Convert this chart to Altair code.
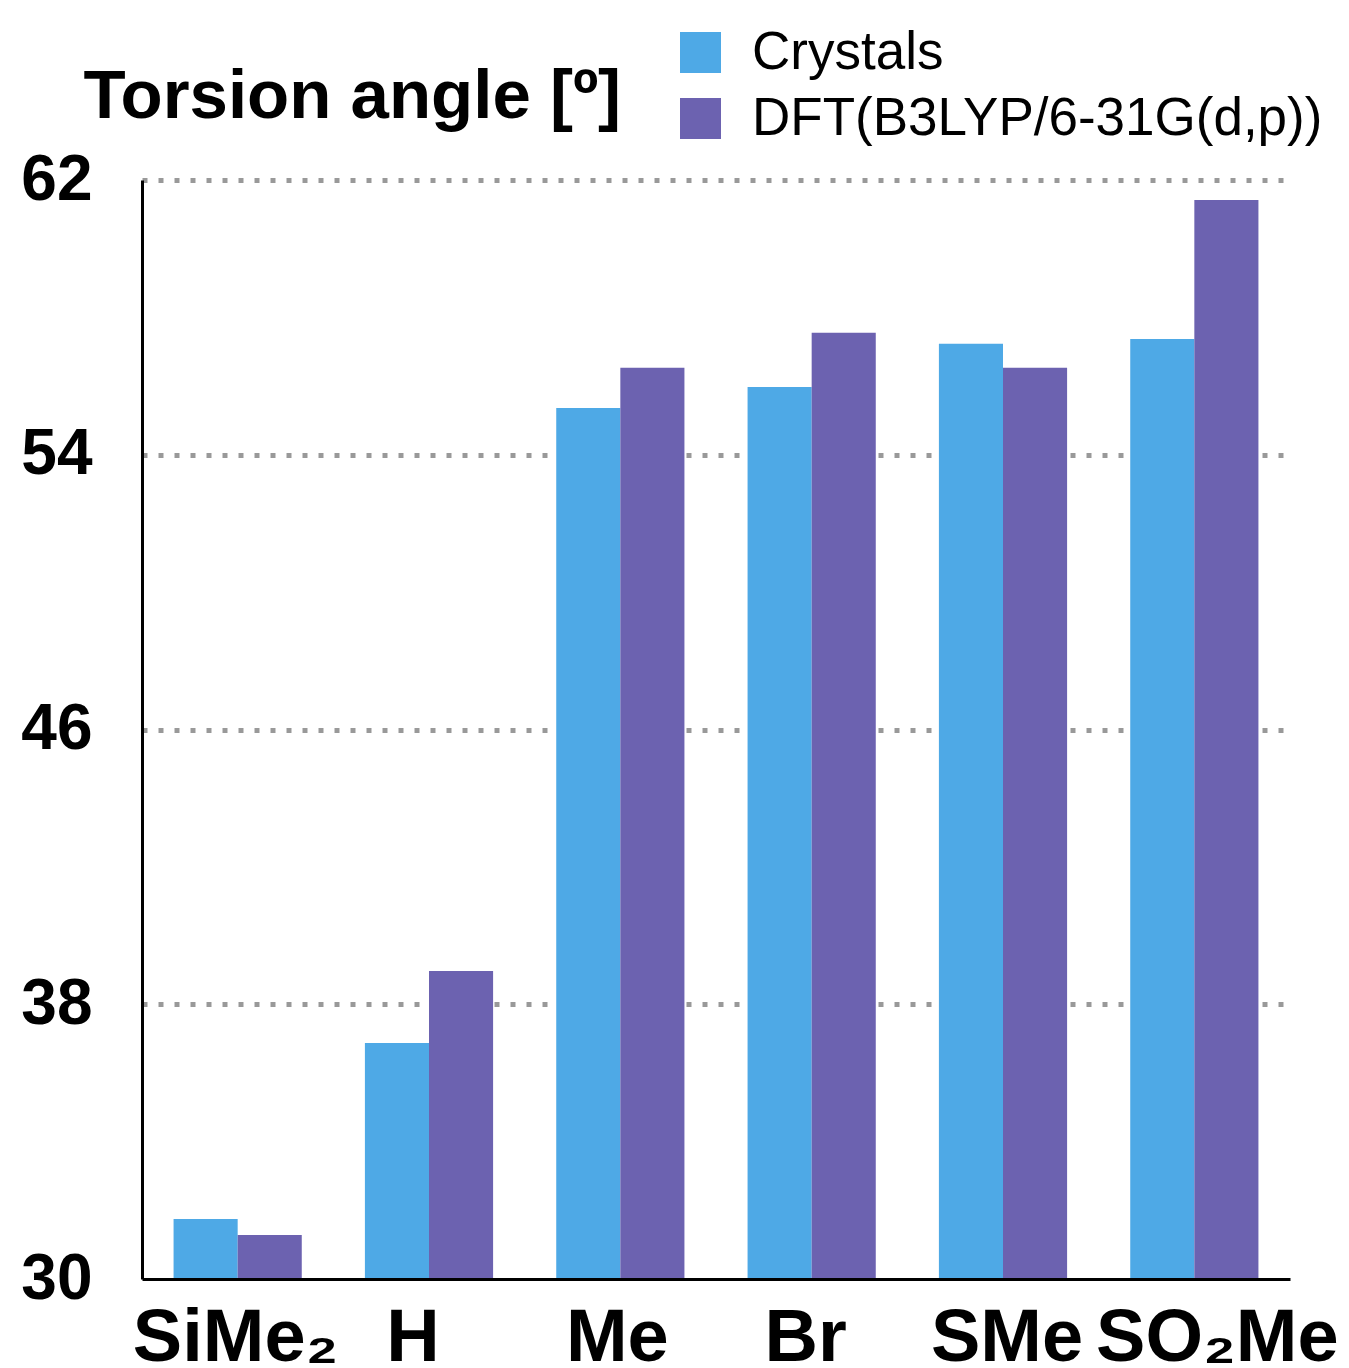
import altair as alt
import pandas as pd

categories = ["SiMe₂", "H", "Me", "Br", "SMe", "SO₂Me"]
crystals = [31.75, 36.87, 55.36, 55.97, 57.23, 57.37]
dft = [31.28, 38.97, 56.53, 57.55, 56.53, 61.42]
series_names = ["Crystals", "DFT(B3LYP/6-31G(d,p))"]
y_ticks = [30, 38, 46, 54, 62]
label_shift = [-2, -16, -3, -6, 4, 23]

rows = []
for i, c in enumerate(categories):
    rows.append({"group": c, "series": series_names[0], "angle": crystals[i]})
    rows.append({"group": c, "series": series_names[1], "angle": dft[i]})
df = pd.DataFrame(rows)

FONT = "Liberation Sans, Arial, Helvetica, sans-serif"

offset_cond = {
    "condition": [{"test": f"datum.value === '{c}'", "value": s}
                  for c, s in zip(categories, label_shift)],
    "value": 0,
}

chart = alt.Chart(df).mark_bar().encode(
    x=alt.X(
        "group:N", sort=categories,
        scale=alt.Scale(paddingInner=0.33, paddingOuter=0.165),
        axis=alt.Axis(title=None, labelAngle=0, labelFontSize=74, labelFontWeight="bold",
                      labelColor="black", labelFont=FONT, labelPadding=23, ticks=False,
                      labelLimit=0, labelOverlap=False, labelOffset=offset_cond,
                      domainColor="black", domainWidth=3, zindex=1, labelBaseline="top"),
    ),
    xOffset=alt.XOffset("series:N", sort=series_names,
                        scale=alt.Scale(paddingInner=0, paddingOuter=0)),
    y=alt.Y(
        "angle:Q",
        scale=alt.Scale(domain=[30, 62], nice=False, zero=False),
        stack=None,
        axis=alt.Axis(values=y_ticks, title="Torsion angle [º]", titleAngle=0,
                      titleX=-59, titleY=-63, titleAlign="left", titleBaseline="alphabetic",
                      titleFontSize=69, titleFontWeight="bold", titleFont=FONT, titleColor="black",
                      titleLimit=0,
                      labelFontSize=64, labelFontWeight="bold", labelFont=FONT, labelColor="black",
                      labelPadding=50, ticks=False, domainColor="black", domainWidth=3,
                      labelLimit=0,
                      grid=True, gridColor="#999999", gridWidth=5, gridDash=[5, 11],
                      gridOpacity=alt.condition("datum.value == 30", alt.value(0), alt.value(1)),
                      zindex=0),
    ),
    y2=alt.datum(30),
    color=alt.Color(
        "series:N", sort=series_names,
        scale=alt.Scale(domain=series_names, range=["#4EA9E6", "#6C62B0"]),
        legend=alt.Legend(title=None, orient="none", legendX=532, legendY=-154,
                          symbolType="square", symbolSize=1681, symbolStrokeWidth=0,
                          labelFontSize=53, labelFont=FONT, labelColor="black", labelLimit=0,
                          labelOffset=25, rowPadding=12, padding=0, symbolOpacity=1),
    ),
).properties(
    width=1148, height=1099,
    autosize=alt.AutoSizeParams(type="none"),
    padding={"left": 134, "top": 172, "right": 51, "bottom": 89},
).configure_view(stroke=None)

chart.save("out.html", embed_options={"renderer": "svg", "actions": False})
